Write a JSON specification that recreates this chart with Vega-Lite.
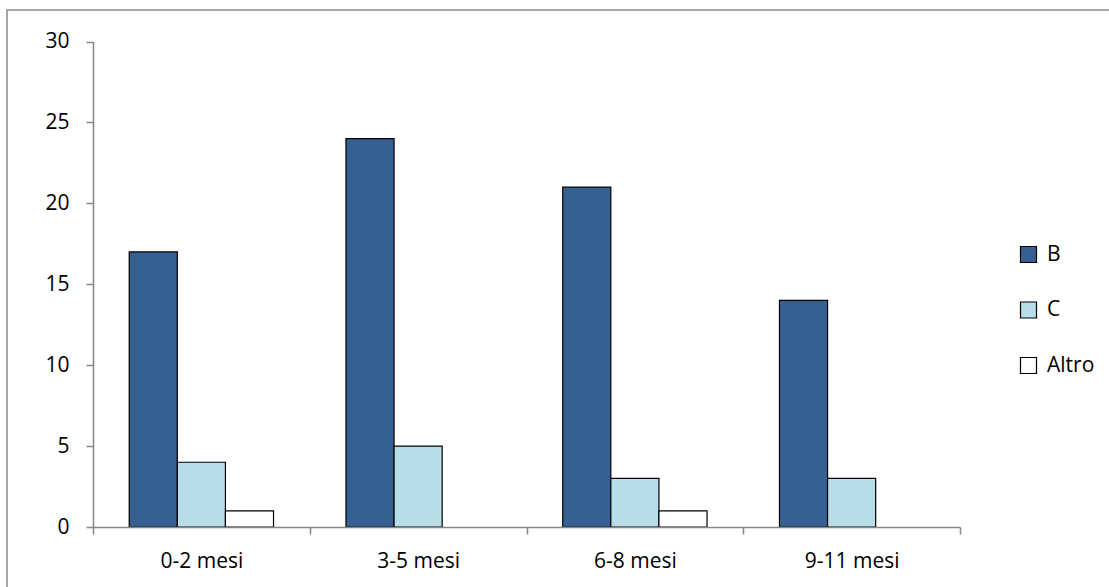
{
  "$schema": "https://vega.github.io/schema/vega-lite/v6.json",
  "width": 1104,
  "height": 579,
  "autosize": {"type": "none"},
  "padding": {"left": 7, "top": 10, "right": -2, "bottom": -2},
  "background": "white",
  "config": {
    "view": {"stroke": "#898989", "strokeWidth": 1.5},
    "font": "Open Sans"
  },
  "data": {
    "values": [
      {"eta": "0-2 mesi", "tipo": "B", "valore": 17},
      {"eta": "0-2 mesi", "tipo": "C", "valore": 4},
      {"eta": "0-2 mesi", "tipo": "Altro", "valore": 1},
      {"eta": "3-5 mesi", "tipo": "B", "valore": 24},
      {"eta": "3-5 mesi", "tipo": "C", "valore": 5},
      {"eta": "6-8 mesi", "tipo": "B", "valore": 21},
      {"eta": "6-8 mesi", "tipo": "C", "valore": 3},
      {"eta": "6-8 mesi", "tipo": "Altro", "valore": 1},
      {"eta": "9-11 mesi", "tipo": "B", "valore": 14},
      {"eta": "9-11 mesi", "tipo": "C", "valore": 3}
    ]
  },
  "mark": {"type": "bar", "stroke": "black", "strokeWidth": 1.2},
  "encoding": {
    "x": {
      "field": "eta",
      "type": "nominal",
      "sort": ["0-2 mesi", "3-5 mesi", "6-8 mesi", "9-11 mesi"],
      "scale": {"range": [86, 953], "paddingInner": 0, "paddingOuter": 0},
      "axis": {
        "title": null,
        "orient": "bottom",
        "offset": -62,
        "labelAngle": 0,
        "labelFontSize": 21,
        "labelColor": "black",
        "labelPadding": 16,
        "domainColor": "#868686",
        "domainWidth": 1.5,
        "tickColor": "#868686",
        "tickWidth": 1.5,
        "tickSize": 7,
        "tickBand": "extent",
        "grid": false,
        "zindex": 1
      }
    },
    "xOffset": {
      "field": "tipo",
      "type": "nominal",
      "sort": ["B", "C", "Altro"],
      "scale": {"domain": ["B", "C", "Altro"], "paddingInner": 0, "paddingOuter": 0.753}
    },
    "y": {
      "field": "valore",
      "type": "quantitative",
      "scale": {"domain": [0, 30], "range": [517, 31.5], "nice": false},
      "axis": {
        "title": null,
        "offset": -86,
        "values": [0, 5, 10, 15, 20, 25, 30],
        "labelFontSize": 21,
        "labelColor": "black",
        "labelPadding": 17,
        "domainColor": "#868686",
        "domainWidth": 1.5,
        "tickColor": "#868686",
        "tickWidth": 1.5,
        "tickSize": 7,
        "grid": false
      }
    },
    "color": {
      "field": "tipo",
      "type": "nominal",
      "sort": ["B", "C", "Altro"],
      "scale": {"domain": ["B", "C", "Altro"], "range": ["#376092", "#B7DEE8", "#FFFFFF"]},
      "legend": {
        "title": null,
        "orient": "none",
        "legendX": 1011,
        "legendY": 234,
        "padding": 0,
        "symbolType": "square",
        "symbolSize": 256,
        "symbolStrokeColor": "black",
        "symbolStrokeWidth": 1.2,
        "labelFontSize": 21,
        "labelColor": "black",
        "labelOffset": 8,
        "rowPadding": 33.5
      }
    }
  }
}
